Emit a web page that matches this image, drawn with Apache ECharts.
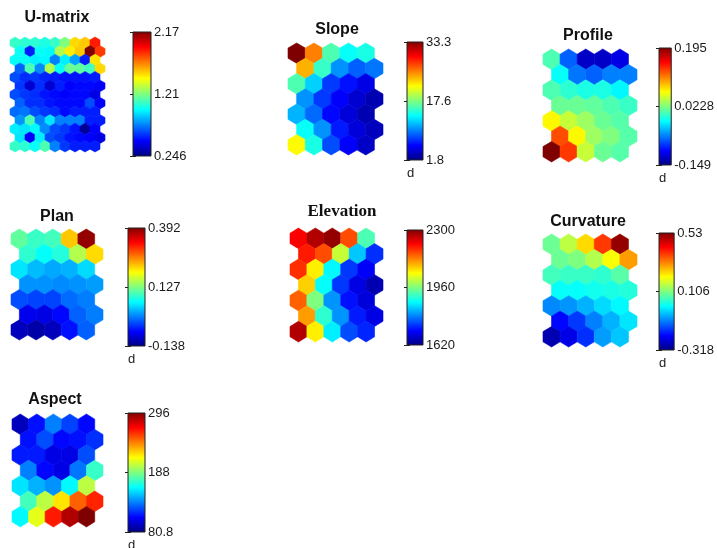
<!DOCTYPE html>
<html>
<head>
<meta charset="utf-8">
<script src="https://cdn.jsdelivr.net/npm/echarts@6/dist/echarts.min.js"></script>
<style>
  html, body { margin: 0; padding: 0; background: #fff; }
  #main { width: 717px; height: 548px; }
</style>
</head>
<body>
<div id="main"></div>
<script>
// component planes, rows top to bottom, odd rows shifted half a cell right
var uMatrix = [
  [1.07, 1.05, 1.05, 1.02, 1.07, 1.21, 1.52, 1.55, 1.88],
  [0.98, 0.54, 0.98, 0.96, 1.30, 1.48, 1.55, 2.17, 1.82],
  [0.98, 0.98, 0.94, 0.96, 0.73, 0.94, 0.79, 0.54, 1.50],
  [0.67, 1.11, 0.75, 1.30, 0.98, 1.17, 1.15, 1.09, 1.52],
  [0.63, 0.57, 0.59, 0.55, 0.54, 0.52, 0.52, 0.52, 0.54],
  [0.59, 0.40, 0.57, 0.40, 0.54, 0.48, 0.50, 0.50, 0.48],
  [0.63, 0.59, 0.57, 0.52, 0.50, 0.48, 0.50, 0.50, 0.44],
  [0.67, 0.57, 0.57, 0.52, 0.50, 0.50, 0.50, 0.63, 0.48],
  [0.69, 0.71, 0.63, 0.59, 0.57, 0.50, 0.54, 0.54, 0.54],
  [0.77, 1.11, 0.73, 0.92, 0.73, 0.73, 0.73, 0.54, 0.54],
  [0.94, 0.92, 0.96, 0.75, 0.63, 0.59, 0.52, 0.30, 0.48],
  [0.92, 0.48, 0.94, 0.63, 0.59, 0.52, 0.50, 0.48, 0.44],
  [1.07, 1.05, 0.98, 1.11, 0.73, 0.59, 0.54, 0.54, 0.54]
];
var slope = [
  [33.3, 25.4, 16.0, 13.8, 14.4],
  [23.9, 15.3, 10.3, 8.7, 9.4],
  [16.0, 12.2, 7.5, 6.2, 5.0],
  [10.3, 7.5, 5.6, 4.3, 3.4],
  [11.3, 9.0, 5.9, 4.6, 3.4],
  [13.8, 10.3, 6.5, 4.6, 3.7],
  [21.6, 14.4, 8.1, 5.6, 4.0]
];
var profile = [
  [0.006, -0.073, -0.125, -0.125, -0.115],
  [-0.018, -0.066, -0.073, -0.063, -0.063],
  [0.006, -0.005, -0.011, -0.011, -0.022],
  [0.016, 0.016, 0.013, 0.006, -0.001],
  [0.068, 0.047, 0.033, 0.016, 0.009],
  [0.126, 0.068, 0.033, 0.023, 0.009],
  [0.195, 0.133, 0.047, 0.016, 0.009]
];
var plan = [
  [0.111, 0.090, 0.095, 0.222, 0.381],
  [0.085, 0.063, 0.079, 0.154, 0.212],
  [0.048, 0.026, 0.016, 0.021, 0.042],
  [0.005, 0.005, 0.000, 0.005, 0.010],
  [-0.032, -0.037, -0.037, -0.016, -0.006],
  [-0.080, -0.085, -0.069, -0.021, -0.006],
  [-0.106, -0.117, -0.106, -0.064, -0.021]
];
var elevation = [
  [2218, 2266, 2286, 2164, 1926],
  [2198, 2164, 2008, 1838, 1736],
  [2184, 2055, 1872, 1742, 1702],
  [2076, 1878, 1742, 1688, 1654],
  [2150, 1960, 1804, 1715, 1681],
  [2110, 1906, 1804, 1722, 1688],
  [2266, 2055, 1865, 1756, 1729]
];
var curvature = [
  [0.089, 0.157, 0.242, 0.377, 0.513],
  [0.089, 0.106, 0.148, 0.208, 0.293],
  [0.055, 0.047, 0.047, 0.038, 0.072],
  [0.004, 0.004, 0.013, 0.021, 0.030],
  [-0.098, -0.089, -0.064, -0.030, -0.004],
  [-0.208, -0.165, -0.106, -0.064, -0.021],
  [-0.276, -0.233, -0.174, -0.081, -0.047]
];
var aspect = [
  [93.7, 110.9, 134.6, 121.7, 108.8],
  [110.9, 123.8, 108.8, 110.9, 117.4],
  [113.1, 113.1, 102.3, 102.3, 123.8],
  [134.6, 108.8, 102.3, 132.4, 173.3],
  [156.1, 145.4, 138.9, 160.4, 201.3],
  [175.5, 201.3, 220.7, 248.7, 261.6],
  [160.4, 209.9, 263.7, 285.2, 296.0]
];

var planes = [uMatrix, slope, profile, plan, elevation, curvature, aspect];
var titleText = ['U-matrix', 'Slope', 'Profile', 'Plan', 'Elevation', 'Curvature', 'Aspect'];
var valueMin = [0.246, 1.8, -0.149, -0.138, 1620, -0.318, 80.8];
var valueMax = [2.17, 33.3, 0.195, 0.392, 2300, 0.53, 296];
var tickLabels = [
  ['0.246', '1.21', '2.17'],
  ['1.8', '17.6', '33.3'],
  ['-0.149', '0.0228', '0.195'],
  ['-0.138', '0.127', '0.392'],
  ['1620', '1960', '2300'],
  ['-0.318', '0.106', '0.53'],
  ['80.8', '188', '296']
];
var unitText = ['', 'd', 'd', 'd', '', 'd', 'd'];

// layout: hex box [left, top, w, h], colorbar box, title centre
var layout = [
  { hex: [10, 37, 95, 115], bar: [133, 32, 18, 124], title: [57, 18] },
  { hex: [288, 43, 95, 112], bar: [407, 42, 16, 118], title: [337, 30] },
  { hex: [543, 49, 94, 113], bar: [659, 48, 16, 117], title: [588, 36] },
  { hex: [11, 229, 92, 111], bar: [128, 228, 17, 118], title: [57, 217] },
  { hex: [290, 228, 93, 114], bar: [407, 230, 16, 115], title: [342, 212], serif: true },
  { hex: [543, 234, 94, 113], bar: [659, 233, 16, 117], title: [588, 222] },
  { hex: [12, 414, 91, 113], bar: [128, 413, 17, 119], title: [55, 400] }
];

var jet = ['#00007f', '#0000ff', '#007fff', '#00ffff', '#7fff7f', '#ffff00', '#ff7f00', '#ff0000', '#7f0000'];
var SQ3 = Math.sqrt(3);

function hexData(rows) {
  var out = [];
  rows.forEach(function (row, r) {
    row.forEach(function (v, c) {
      out.push([c + (r % 2) * 0.5, r * SQ3 / 2, v]);
    });
  });
  return out;
}

function renderHex(params, api) {
  var p = api.coord([api.value(0), api.value(1)]);
  var s = api.size([1, 1]);
  var hw = Math.abs(s[0]) / 2;
  var R = Math.abs(s[1]) / SQ3;
  var col = api.visual('color');
  return {
    type: 'polygon',
    shape: {
      points: [
        [p[0], p[1] - R], [p[0] + hw, p[1] - R / 2], [p[0] + hw, p[1] + R / 2],
        [p[0], p[1] + R], [p[0] - hw, p[1] + R / 2], [p[0] - hw, p[1] - R / 2]
      ]
    },
    style: { fill: col, stroke: col, lineWidth: 0.6 }
  };
}

var stops = jet.map(function (c, i) { return { offset: i / (jet.length - 1), color: c }; });

function renderBar(params, api) {
  var a = api.coord([0, 0]);
  var b = api.coord([1, 1]);
  return {
    type: 'rect',
    shape: { x: a[0], y: b[1], width: b[0] - a[0], height: a[1] - b[1] },
    style: {
      fill: new echarts.graphic.LinearGradient(0, 1, 0, 0, stops),
      stroke: '#222',
      lineWidth: 1
    }
  };
}

var grid = [], xAxis = [], yAxis = [], series = [], visualMap = [], graphic = [];

planes.forEach(function (rows, i) {
  var L = layout[i];
  var nr = rows.length, nc = rows[0].length;

  // hex map
  grid.push({ left: L.hex[0], top: L.hex[1], width: L.hex[2], height: L.hex[3] });
  var gHex = grid.length - 1;
  xAxis.push({ type: 'value', gridIndex: gHex, min: -0.5, max: nc, show: false });
  yAxis.push({ type: 'value', gridIndex: gHex, inverse: true, min: -1 / SQ3, max: (nr - 1) * SQ3 / 2 + 1 / SQ3, show: false });
  series.push({
    type: 'custom', xAxisIndex: xAxis.length - 1, yAxisIndex: yAxis.length - 1,
    renderItem: renderHex, data: hexData(rows), silent: true
  });
  visualMap.push({
    type: 'continuous', show: false, seriesIndex: series.length - 1, dimension: 2,
    min: valueMin[i], max: valueMax[i], inRange: { color: jet }
  });

  // colour bar
  grid.push({ left: L.bar[0], top: L.bar[1], width: L.bar[2], height: L.bar[3] });
  var gBar = grid.length - 1;
  xAxis.push({ type: 'value', gridIndex: gBar, min: 0, max: 1, show: false });
  var labels = tickLabels[i];
  yAxis.push({
    type: 'value', gridIndex: gBar, position: 'right', min: 0, max: 1, interval: 0.5,
    axisLine: { show: false }, splitLine: { show: false },
    axisTick: { show: true, inside: true, length: 3, lineStyle: { color: '#222' } },
    axisLabel: {
      margin: 3, color: '#1a1a1a', fontSize: 13, fontFamily: 'Liberation Sans',
      formatter: function (v) { return labels[Math.round(v * 2)]; }
    }
  });
  var yBar = yAxis.length - 1;
  yAxis.push({
    type: 'value', gridIndex: gBar, position: 'left', min: 0, max: 1, interval: 0.5,
    axisLine: { show: false }, splitLine: { show: false }, axisLabel: { show: false },
    axisTick: { show: true, inside: true, length: 3, lineStyle: { color: '#222' } }
  });
  series.push({
    type: 'custom', xAxisIndex: xAxis.length - 1, yAxisIndex: yBar,
    renderItem: renderBar, data: [[0, 0]], silent: true
  });

  graphic.push({
    type: 'text', x: L.title[0], y: L.title[1], silent: true,
    style: {
      text: titleText[i], fill: '#111', align: 'center', verticalAlign: 'middle',
      font: L.serif ? 'bold 17px "Liberation Serif"' : 'bold 16px "Liberation Sans"'
    }
  });
  if (unitText[i]) {
    graphic.push({
      type: 'text', x: L.bar[0], y: L.bar[1] + L.bar[3] + 13, silent: true,
      style: { text: unitText[i], fill: '#222', align: 'left', verticalAlign: 'middle', font: '13px "Liberation Sans"' }
    });
  }
});

var myChart = echarts.init(document.getElementById('main'));
myChart.setOption({
  backgroundColor: '#ffffff',
  animation: false,
  grid: grid,
  xAxis: xAxis,
  yAxis: yAxis,
  visualMap: visualMap,
  series: series,
  graphic: graphic
});
</script>
</body>
</html>
